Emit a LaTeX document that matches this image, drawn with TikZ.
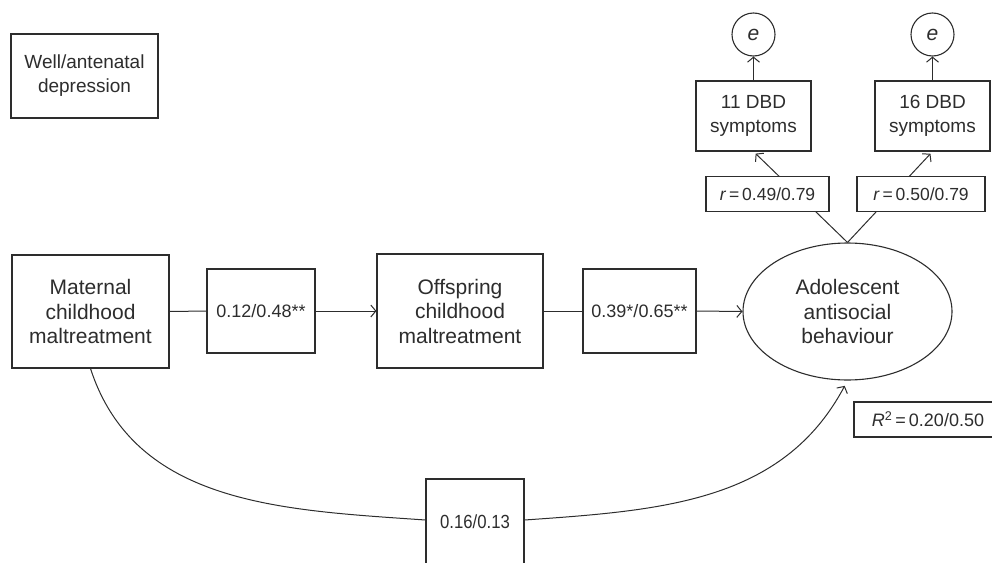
\documentclass[tikz,border=0pt]{standalone}
\usepackage{fontspec}
\usepackage{graphicx}
\setmainfont{Liberation Sans}
\usetikzlibrary{arrows.meta,shapes.geometric,backgrounds}
\definecolor{ink}{RGB}{45,45,45}
\tikzset{
  lbl/.style={draw=ink, fill=white, line width=1.1pt, align=center, inner sep=0pt,
              text=ink, font=\fontsize{21}{24.5}\selectfont},
  smalllbl/.style={lbl, font=\fontsize{19}{24}\selectfont},
  numbox/.style={lbl, font=\fontsize{18}{22}\selectfont},
  rbox/.style={lbl, font=\fontsize{17.5}{22}\selectfont},
  conn/.style={draw=ink, line width=1pt},
  arr/.style={conn, -{Straight Barb[length=5pt,width=12pt]}},
}
\begin{document}
\begin{tikzpicture}[x=1pt,y=1pt]
\useasboundingbox (0,0) rectangle (992,-562);

\node[smalllbl, minimum width=147pt, minimum height=84pt] (well) at (84.5,-76) {Well/antenatal\\depression};
\node[lbl, minimum width=157pt, minimum height=113pt] (mat) at (90.5,-311.5) {Maternal\\childhood\\maltreatment};
\node[numbox, minimum width=108pt, minimum height=84pt] (b1) at (261,-311) {0.12/0.48**};
\node[lbl, minimum width=166pt, minimum height=114pt] (off) at (460,-311) {Offspring\\childhood\\maltreatment};
\node[numbox, minimum width=113pt, minimum height=84pt] (b2) at (639.5,-311) {0.39*/0.65**};
\node[lbl, ellipse, minimum width=209pt, minimum height=137pt] (ab) at (847.5,-311.5) {Adolescent\\antisocial\\behaviour};
\node[numbox, minimum width=148pt, minimum height=35pt] (rsq) at (928,-419.5) {\textit{R}\textsuperscript{2}\,=\,0.20/0.50};
\node[rbox, minimum width=123pt, minimum height=35pt] (r1) at (767.5,-194) {\textit{r}\,=\,0.49/0.79};
\node[rbox, minimum width=128pt, minimum height=35pt] (r2) at (921,-194) {\textit{r}\,=\,0.50/0.79};
\node[smalllbl, minimum width=115pt, minimum height=70pt] (d11) at (753.5,-116) {11 DBD\\symptoms};
\node[smalllbl, minimum width=115pt, minimum height=70pt] (d16) at (932.5,-116) {16 DBD\\symptoms};
\node[lbl, circle, minimum size=43pt] (e1) at (753.5,-34.5) {\textit{e}};
\node[lbl, circle, minimum size=43pt] (e2) at (932.5,-34.5) {\textit{e}};
\node[numbox, font=\fontsize{19}{22}\selectfont, minimum width=98pt, minimum height=86pt] (bot) at (475,-522) {\scalebox{0.88}[1]{0.16/0.13}};

\begin{pgfonlayer}{background}
\draw[conn] (mat.east) -- (b1.west);
\draw[arr] (b1.east) -- (off.west);
\draw[conn] (off.east) -- (b2.west);
\draw[arr] (b2.east) -- (ab.west);
\draw[arr, shorten >=3pt] (ab.north) -- (d11.south);
\draw[arr, shorten >=3pt] (ab.north) -- (d16.south);
\draw[arr] (d11.north) -- (e1.south);
\draw[arr] (d16.north) -- (e2.south);
\draw[conn] (mat.south) to[out=-72, in=176] ([yshift=2pt]bot.west);
\draw[arr, shorten >=6pt] ([yshift=2pt]bot.east) to[out=4, in=-118] (ab.south);
\end{pgfonlayer}
\end{tikzpicture}
\end{document}
